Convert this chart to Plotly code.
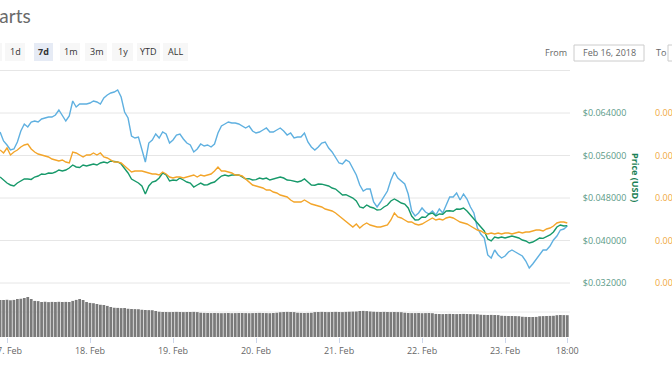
import pandas as pd
import plotly.graph_objects as go

# ---------------- data (hourly, 16 Feb 22:00 -> 23 Feb 18:00, 2018) ----------------
start_time = "2018-02-16 22:00"

price_usd = [
    0.05195, 0.05139, 0.05082, 0.05045, 0.05026, 0.05082, 0.05120, 0.05158, 0.05158, 0.05150,
    0.05195, 0.05214, 0.05252, 0.05245, 0.05271, 0.05265, 0.05289, 0.05327, 0.05308, 0.05327,
    0.05365, 0.05421, 0.05384, 0.05375, 0.05421, 0.05402, 0.05421, 0.05440, 0.05421, 0.05459,
    0.05478, 0.05459, 0.05497, 0.05490, 0.05478, 0.05440, 0.05365, 0.05271, 0.05158, 0.05120,
    0.05082, 0.05026, 0.04875, 0.05026, 0.05101, 0.05120, 0.05176, 0.05271, 0.05233, 0.05120,
    0.05139, 0.05130, 0.05176, 0.05139, 0.05101, 0.05082, 0.05007, 0.05045, 0.05082, 0.05045,
    0.05050, 0.05082, 0.05101, 0.05158, 0.05214, 0.05233, 0.05214, 0.05233, 0.05240, 0.05233,
    0.05195, 0.05158, 0.05165, 0.05139, 0.05145, 0.05176, 0.05158, 0.05176, 0.05139, 0.05158,
    0.05176, 0.05195, 0.05176, 0.05139, 0.05132, 0.05120, 0.05101, 0.05120, 0.05158, 0.05101,
    0.05045, 0.05040, 0.05064, 0.05060, 0.05045, 0.05026, 0.04988, 0.04969, 0.04913, 0.04856,
    0.04862, 0.04838, 0.04800, 0.04744, 0.04631, 0.04612, 0.04668, 0.04631, 0.04612, 0.04574,
    0.04580, 0.04631, 0.04668, 0.04744, 0.04781, 0.04744, 0.04706, 0.04687, 0.04612, 0.04461,
    0.04386, 0.04390, 0.04442, 0.04435, 0.04499, 0.04518, 0.04461, 0.04499, 0.04495, 0.04555,
    0.04560, 0.04550, 0.04593, 0.04588, 0.04612, 0.04555, 0.04480, 0.04405, 0.04311, 0.04254,
    0.04179, 0.04028, 0.03991, 0.04066, 0.04047, 0.04066, 0.04047, 0.04066, 0.04085, 0.04066,
    0.04047, 0.04009, 0.03991, 0.03953, 0.03972, 0.04009, 0.04047, 0.04040, 0.04066, 0.04104,
    0.04160, 0.04254, 0.04292, 0.04273, 0.04280,
]

# market cap, millions USD (left axis, outside the visible crop)
market_cap_musd = [
    50.2, 48.4, 47.6, 46.6, 46.8, 48.2, 50.4, 51.8, 51.2, 52.2,
    52.4, 52.2, 52.8, 53.0, 53.2, 53.2, 53.6, 54.6, 53.6, 52.4,
    53.4, 56.4, 55.2, 55.8, 55.8, 55.8, 56.0, 56.4, 56.2, 55.8,
    57.0, 57.6, 58.0, 58.2, 58.6, 57.2, 54.2, 53.0, 49.4, 49.0,
    49.2, 46.8, 44.2, 48.0, 48.6, 49.8, 49.0, 50.2, 49.8, 48.0,
    48.6, 49.6, 49.8, 48.8, 48.0, 47.6, 46.2, 46.8, 47.8, 47.4,
    47.6, 47.2, 47.8, 50.0, 51.4, 51.8, 52.2, 52.0, 52.0, 51.8,
    51.4, 51.0, 51.4, 50.4, 50.0, 50.2, 50.6, 51.0, 50.2, 50.2,
    50.6, 51.0, 50.4, 49.6, 50.0, 49.0, 49.2, 49.2, 50.0, 48.2,
    47.2, 46.6, 47.2, 48.0, 48.2, 47.0, 46.2, 45.2, 44.0, 43.8,
    44.6, 44.2, 43.0, 41.6, 39.6, 38.4, 38.8, 38.8, 36.2, 35.2,
    36.2, 37.4, 38.4, 40.6, 42.2, 41.0, 40.4, 39.8, 37.8, 34.4,
    33.4, 34.0, 35.0, 34.2, 33.8, 34.4, 33.6, 34.8, 34.0, 35.6,
    37.2, 37.2, 38.0, 36.6, 37.8, 36.8, 35.2, 34.0, 31.0, 29.8,
    29.0, 25.6, 25.0, 26.6, 25.6, 25.0, 25.4, 26.2, 26.6, 26.2,
    25.8, 25.4, 24.4, 23.0, 23.8, 24.8, 25.6, 26.6, 26.6, 27.4,
    28.6, 29.4, 30.6, 30.8, 31.4,
]

# price in BTC, expressed in satoshi (1e-8 BTC)
price_btc_sat = [
    566, 560, 570, 556, 562, 566, 572, 576, 578, 568,
    562, 558, 556, 554, 552, 548, 546, 544, 546, 542,
    540, 562, 560, 556, 552, 556, 556, 560, 556, 560,
    552, 550, 546, 542, 542, 540, 534, 528, 522, 524,
    524, 524, 522, 520, 518, 518, 516, 522, 518, 512,
    510, 512, 512, 510, 512, 514, 516, 512, 516, 514,
    516, 518, 524, 532, 524, 524, 522, 520, 516, 516,
    514, 508, 502, 496, 494, 492, 490, 486, 486, 482,
    480, 476, 474, 472, 466, 462, 462, 462, 466, 462,
    458, 456, 454, 452, 448, 446, 444, 440, 434, 430,
    424, 418, 412, 418, 410, 416, 420, 416, 414, 412,
    412, 414, 416, 426, 440, 432, 430, 426, 422, 422,
    418, 416, 418, 422, 426, 430, 426, 428, 426, 430,
    432, 430, 426, 422, 420, 418, 414, 410, 406, 404,
    400, 398, 400, 398, 400, 398, 400, 400, 398, 400,
    402, 400, 402, 402, 404, 406, 406, 404, 408, 410,
    414, 420, 422, 422, 420,
]

# volume, thousands USD
volume_kusd = [
    740, 740, 745, 735, 742, 760, 765, 780, 800, 760,
    722, 718, 700, 705, 698, 702, 700, 704, 700, 702,
    700, 722, 742, 760, 740, 700, 682, 676, 660, 645,
    640, 622, 600, 585, 582, 578, 580, 565, 560, 558,
    556, 545, 540, 538, 536, 520, 505, 500, 500, 498,
    500, 502, 500, 498, 500, 500, 502, 498, 485, 482,
    480, 478, 480, 478, 476, 478, 480, 476, 478, 480,
    480, 478, 476, 478, 480, 482, 480, 478, 476, 480,
    485, 495, 500, 502, 500, 498, 485, 482, 480, 482,
    484, 498, 500, 502, 500, 498, 500, 502, 500, 498,
    502, 505, 508, 510, 520, 522, 518, 510, 505, 502,
    500, 502, 500, 498, 500, 498, 496, 485, 480, 478,
    478, 480, 476, 478, 480, 476, 462, 460, 458, 460,
    462, 460, 458, 460, 462, 460, 458, 456, 455, 445,
    442, 440, 442, 440, 438, 425, 422, 420, 420, 418,
    416, 405, 402, 400, 400, 402, 415, 418, 420, 422,
    424, 436, 440, 438, 436,
]

usd_ticks = [0.032, 0.040, 0.048, 0.056, 0.064, 0.072]
usd_ticktext = ["$0.032000", "$0.040000", "$0.048000", "$0.056000", "$0.064000", ""]
btc_ticks = [300, 385, 470, 555, 640]
btc_ticktext = ["0.00000300", "0.00000385", "0.00000470", "0.00000555", "0.00000640"]
date_ticks = ["2018-02-17", "2018-02-18", "2018-02-19", "2018-02-20", "2018-02-21",
              "2018-02-22", "2018-02-23", "2018-02-23 18:00"]
date_ticktext = ["17. Feb", "18. Feb", "19. Feb", "20. Feb", "21. Feb", "22. Feb", "23. Feb", "18:00"]
range_buttons = ["1d", "7d", "1m", "3m", "1y", "YTD", "ALL"]
x_range = ["2018-02-16 21:58:30", "2018-02-23 18:47"]

# ---------------- figure ----------------
W, H = 672, 372
def fx(px):
    return px / W
def fy(py):
    return 1 - py / H

times = pd.date_range(start_time, periods=len(price_usd), freq="h")
FONT = "Open Sans"

fig = go.Figure()
fig.add_trace(go.Bar(x=times[:len(volume_kusd)], y=volume_kusd, xaxis="x2", yaxis="y4",
                     marker=dict(color="#7a7a7a", line=dict(width=0)), showlegend=False))
fig.add_trace(go.Scatter(x=times[:len(market_cap_musd)], y=market_cap_musd, xaxis="x", yaxis="y",
                         mode="lines", line=dict(color="#5fb0e0", width=1.4), showlegend=False))
fig.add_trace(go.Scatter(x=times[:len(price_usd)], y=price_usd, xaxis="x", yaxis="y2",
                         mode="lines", line=dict(color="#17996a", width=1.4), showlegend=False))
fig.add_trace(go.Scatter(x=times[:len(price_btc_sat)], y=price_btc_sat, xaxis="x", yaxis="y3",
                         mode="lines", line=dict(color="#f3a52a", width=1.4), showlegend=False))

plot_right = 570
dom_x = [0, fx(plot_right)]
price_dom = [fy(284.06), fy(69.44)]
vol_dom = [fy(337), fy(284.06)]

shapes = []
for v in usd_ticks:
    shapes.append(dict(type="line", xref="paper", yref="y2", x0=0, x1=fx(plot_right), y0=v, y1=v,
                       line=dict(color="#e6e6e6", width=1), layer="below"))
shapes.append(dict(type="line", xref="paper", yref="y4", x0=0, x1=fx(plot_right), y0=500, y1=500,
                   line=dict(color="#ececec", width=1), layer="below"))

annotations = []
annotations.append(dict(text="Charts", x=fx(33), y=fy(16), xref="paper", yref="paper",
                        xanchor="right", yanchor="middle", showarrow=False,
                        font=dict(family="Lato", size=19, color="#6a6a6a")))

btn_boxes = [(5, 25), (34, 53), (60, 80), (85, 107), (112, 133), (137, 160), (163, 188)]
shapes.append(dict(type="rect", xref="paper", yref="paper", x0=fx(-10), x1=fx(2), y0=fy(61), y1=fy(43),
                   fillcolor="#f7f7f7", line=dict(width=0)))
for label, (a, b) in zip(range_buttons, btn_boxes):
    sel = label == "7d"
    shapes.append(dict(type="rect", xref="paper", yref="paper", x0=fx(a), x1=fx(b), y0=fy(61), y1=fy(43),
                       fillcolor="#e6ebf5" if sel else "#f7f7f7", line=dict(width=0)))
    annotations.append(dict(text=f"<b>{label}</b>" if sel else label, x=fx((a + b) / 2), y=fy(52),
                            xref="paper", yref="paper", xanchor="center", yanchor="middle",
                            showarrow=False, font=dict(family=FONT, size=9, color="#333333")))

annotations.append(dict(text="From", x=fx(569), y=fy(53), xref="paper", yref="paper", xanchor="right",
                        yanchor="middle", showarrow=False, font=dict(family=FONT, size=9, color="#666666")))
shapes.append(dict(type="rect", xref="paper", yref="paper", x0=fx(574), x1=fx(644), y0=fy(61), y1=fy(45),
                   fillcolor="white", line=dict(color="#cccccc", width=1)))
annotations.append(dict(text="Feb 16, 2018", x=fx(609), y=fy(53), xref="paper", yref="paper",
                        xanchor="center", yanchor="middle", showarrow=False,
                        font=dict(family=FONT, size=9, color="#666666")))
annotations.append(dict(text="To", x=fx(661), y=fy(53), xref="paper", yref="paper", xanchor="center",
                        yanchor="middle", showarrow=False, font=dict(family=FONT, size=9, color="#666666")))
shapes.append(dict(type="rect", xref="paper", yref="paper", x0=fx(668), x1=fx(700), y0=fy(61), y1=fy(45),
                   fillcolor="white", line=dict(color="#cccccc", width=1)))

annotations.append(dict(text="<b>Price (USD)</b>", x=fx(636), y=fy(177), xref="paper", yref="paper",
                        xanchor="center", yanchor="middle", textangle=90, showarrow=False,
                        font=dict(family=FONT, size=9, color="#1b7f56")))

fig.update_layout(
    width=W, height=H,
    margin=dict(l=0, r=0, t=0, b=0, autoexpand=False),
    paper_bgcolor="white", plot_bgcolor="white",
    bargap=0.2,
    showlegend=False,
    xaxis=dict(domain=dom_x, range=x_range, type="date", anchor="y", visible=False, automargin=False),
    xaxis2=dict(domain=dom_x, range=x_range, type="date", anchor="y4", automargin=False,
                tickmode="array", tickvals=date_ticks, ticktext=date_ticktext,
                ticks="outside", ticklen=5, tickwidth=1, tickcolor="#ccd6eb",
                ticklabeloverflow="allow",
                tickfont=dict(family=FONT, size=9, color="#666666"),
                showgrid=False, showline=False, zeroline=False),
    yaxis=dict(domain=price_dom, range=[19.788, 62.712], visible=False, anchor="x", automargin=False),
    yaxis2=dict(overlaying="y", side="right", anchor="x", range=[0.0318, 0.0722], automargin=False,
                tickmode="array", tickvals=usd_ticks, ticktext=usd_ticktext,
                ticks="outside", ticklen=10, tickcolor="rgba(0,0,0,0)",
                ticklabeloverflow="allow",
                tickfont=dict(family=FONT, size=9, color="#5b9a87"),
                showgrid=False, zeroline=False, showline=False),
    yaxis3=dict(overlaying="y", side="right", anchor="free", position=fx(654), range=[297.88, 727.12],
                automargin=False, tickmode="array", tickvals=btc_ticks, ticktext=btc_ticktext,
                ticks="", ticklabeloverflow="allow",
                tickfont=dict(family=FONT, size=9, color="#f0a840"),
                showgrid=False, zeroline=False, showline=False),
    yaxis4=dict(domain=vol_dom, range=[0, 1059], anchor="x2", visible=False, automargin=False),
    shapes=shapes,
    annotations=annotations,
)

fig.write_html("out.html", config={"displayModeBar": False})

# remove the browser's default page margin so the figure sits at the window origin
with open("out.html", "r", encoding="utf-8") as f:
    html = f.read()
html = html.replace("<head>", "<head><style>html,body{margin:0;padding:0;overflow:hidden;}</style>", 1)
with open("out.html", "w", encoding="utf-8") as f:
    f.write(html)
